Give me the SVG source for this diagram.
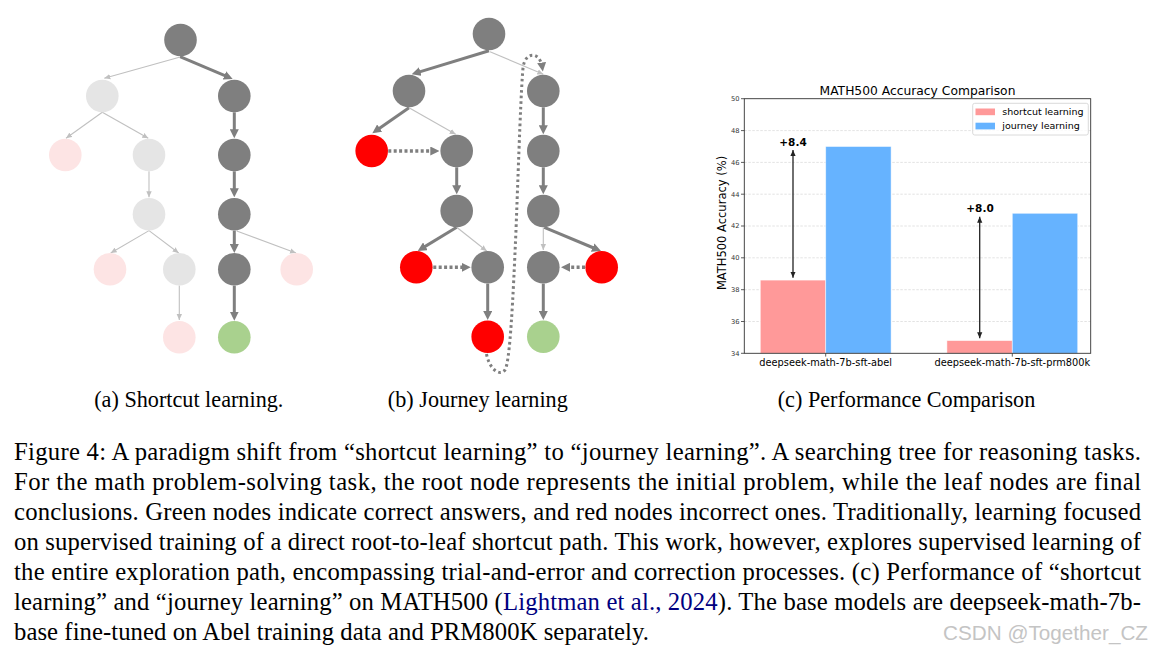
<svg xmlns="http://www.w3.org/2000/svg" width="1153" height="653" viewBox="0 0 1153 653">
<defs>
<style>
.dk{fill:#7f7f7f}
.lg{fill:#e5e5e5}
.pk{fill:#fde4e4}
.rd{fill:#ff0000}
.gr{fill:#a9d18e}
.ed{stroke:#7f7f7f;stroke-width:3;fill:none;marker-end:url(#mDark)}
.el{stroke:#c0c0c0;stroke-width:1.1;fill:none;marker-end:url(#mLight)}
.dt{stroke:#7f7f7f;stroke-width:3.5;fill:none;stroke-dasharray:3 2.4;marker-end:url(#mDark)}
.lp{stroke:#7f7f7f;stroke-width:3;fill:none;stroke-dasharray:2.6 3;marker-end:url(#mDark)}
.cap{font-family:"Liberation Serif","Times New Roman",serif;font-size:24.7px;fill:#000}
.sub{font-family:"Liberation Serif","Times New Roman",serif;font-size:22.2px;fill:#000;text-anchor:middle}
.mpl{font-family:"DejaVu Sans",sans-serif;fill:#000}
.tk{font-family:"DejaVu Sans",sans-serif;font-size:6.7px;fill:#333;text-anchor:end}
.grid{stroke:#d0d0d0;stroke-width:0.6;stroke-dasharray:2.5 1.5}
</style>
<marker id="mDark" markerUnits="userSpaceOnUse" markerWidth="9" markerHeight="9" viewBox="0 0 9 9" refX="5" refY="4.5" orient="auto"><path d="M0,0 L9,4.5 L0,9 z" fill="#7f7f7f"/></marker>
<marker id="mLight" markerUnits="userSpaceOnUse" markerWidth="6" markerHeight="6" viewBox="0 0 6 6" refX="6" refY="3" orient="auto"><path d="M0,0.3 L6,3 L0,5.7 z" fill="#c0c0c0"/></marker>
<marker id="mChart" markerUnits="userSpaceOnUse" markerWidth="6" markerHeight="6" viewBox="0 0 6 6" refX="6" refY="3" orient="auto-start-reverse"><path d="M0,0.4 L6,3 L0,5.6 z" fill="#222"/></marker>
</defs>
<rect width="1153" height="653" fill="#fff"/>

<!-- Panel (a) connectors -->
<g id="a-connectors">
<path class="el" d="M179.3,57.3 L104.3,78.3"/>
<path class="ed" d="M180,56.7 L229,77.4"/>
<path class="el" d="M102.3,112.3 L66,138.3"/>
<path class="el" d="M102.3,112.3 L148.3,138.3"/>
<path class="ed" d="M234.3,112.3 L234.3,134.3"/>
<path class="el" d="M149,171.3 L149,197.3"/>
<path class="ed" d="M234.3,171.3 L234.3,193.3"/>
<path class="el" d="M149,230.6 L110.7,253"/>
<path class="el" d="M149,230.6 L178.7,253"/>
<path class="ed" d="M234.3,230.6 L234.3,249"/>
<path class="el" d="M236.7,231 L296,253"/>
<path class="el" d="M179.3,285.6 L179.3,320"/>
<path class="ed" d="M234.3,285.6 L234.3,316.7"/>
</g>
<!-- Panel (a) nodes -->
<g id="a-root"><circle class="dk" cx="180.5" cy="40" r="16.3"/></g>
<g id="a-n1"><circle class="lg" cx="102.3" cy="96" r="16.3"/></g>
<g id="a-n2"><circle class="dk" cx="234.3" cy="96" r="16.3"/></g>
<g id="a-n3"><circle class="pk" cx="65.3" cy="155" r="16.3"/></g>
<g id="a-n4"><circle class="lg" cx="149" cy="155" r="16.3"/></g>
<g id="a-n5"><circle class="dk" cx="234.3" cy="155" r="16.3"/></g>
<g id="a-n6"><circle class="lg" cx="149" cy="214.3" r="16.3"/></g>
<g id="a-n7"><circle class="dk" cx="234.3" cy="214.3" r="16.3"/></g>
<g id="a-n8"><circle class="pk" cx="110" cy="269.3" r="16.3"/></g>
<g id="a-n9"><circle class="lg" cx="179.3" cy="269.3" r="16.3"/></g>
<g id="a-n10"><circle class="dk" cx="234.3" cy="269.3" r="16.3"/></g>
<g id="a-n11"><circle class="pk" cx="296.7" cy="269.3" r="16.3"/></g>
<g id="a-n12"><circle class="pk" cx="179.3" cy="337.3" r="16.3"/></g>
<g id="a-n13"><circle class="gr" cx="234.3" cy="337.3" r="16.3"/></g>

<!-- Panel (b) connectors -->
<g id="b-connectors">
<path class="ed" d="M489,50.7 L415.5,73.1"/>
<path class="el" d="M490,51.7 L543.3,74.3"/>
<path class="ed" d="M409,107.7 L375.6,131"/>
<path class="el" d="M409,107.7 L455.7,134.3"/>
<path class="dt" d="M388.3,151 L435.3,151"/>
<path class="ed" d="M456.7,167.3 L456.7,190.3"/>
<path class="ed" d="M456.7,227.3 L421.1,248.9"/>
<path class="el" d="M456.7,227.3 L486.7,251"/>
<path class="dt" d="M433.3,267.3 L466.7,267.3"/>
<path class="ed" d="M487.7,283.6 L487.7,316"/>
<path class="ed" d="M543.3,107.3 L543.3,130.3"/>
<path class="ed" d="M543.3,167.3 L543.3,190.3"/>
<path class="el" d="M543.3,227.6 L543.3,250"/>
<path class="ed" d="M544.3,227.3 L597.3,249.5"/>
<path class="dt" d="M585,267.3 L565,267.3"/>
<path class="ed" d="M543.3,283.6 L543.3,316"/>
<path class="lp" d="M486.5,354 C489,368 499,377 505,370 C510,362 513,300 516,230 C519,150 521,90 523,68 C525,51 540,51 542.3,67.5"/>
</g>
<!-- Panel (b) nodes -->
<g id="b-root"><circle class="dk" cx="489" cy="34" r="16.3"/></g>
<g id="b-n1"><circle class="dk" cx="409" cy="91" r="16.3"/></g>
<g id="b-n2"><circle class="dk" cx="543.3" cy="91" r="16.3"/></g>
<g id="b-n3"><circle class="rd" cx="371.7" cy="151" r="16.3"/></g>
<g id="b-n4"><circle class="dk" cx="456.7" cy="151" r="16.3"/></g>
<g id="b-n5"><circle class="dk" cx="543.3" cy="151" r="16.3"/></g>
<g id="b-n6"><circle class="dk" cx="456.7" cy="211" r="16.3"/></g>
<g id="b-n7"><circle class="dk" cx="543.3" cy="211" r="16.3"/></g>
<g id="b-n8"><circle class="rd" cx="416.3" cy="267.3" r="16.3"/></g>
<g id="b-n9"><circle class="dk" cx="487.7" cy="267.3" r="16.3"/></g>
<g id="b-n10"><circle class="dk" cx="543.3" cy="267.3" r="16.3"/></g>
<g id="b-n11"><circle class="rd" cx="601.7" cy="267.3" r="16.3"/></g>
<g id="b-n12"><circle class="rd" cx="487.7" cy="336.7" r="16.3"/></g>
<g id="b-n13"><circle class="gr" cx="543.3" cy="336.7" r="16.3"/></g>

<!-- Panel (c) chart -->
<g id="chart">
<text class="mpl" x="917.5" y="95" font-size="12.3" text-anchor="middle">MATH500 Accuracy Comparison</text>
<g id="gridlines">
<line class="grid" x1="744.3" y1="321.5" x2="1090.7" y2="321.5"/>
<line class="grid" x1="744.3" y1="289.7" x2="1090.7" y2="289.7"/>
<line class="grid" x1="744.3" y1="257.8" x2="1090.7" y2="257.8"/>
<line class="grid" x1="744.3" y1="226" x2="1090.7" y2="226"/>
<line class="grid" x1="744.3" y1="194.2" x2="1090.7" y2="194.2"/>
<line class="grid" x1="744.3" y1="162.4" x2="1090.7" y2="162.4"/>
<line class="grid" x1="744.3" y1="130.6" x2="1090.7" y2="130.6"/>
</g>
<g id="bars" stroke="#ffffff" stroke-width="0.8" stroke-opacity="0.6">
<rect x="760.3" y="280.1" width="65.4" height="73.2" fill="#ff9999"/>
<rect x="825.7" y="146.5" width="65.4" height="206.8" fill="#66b3ff"/>
<rect x="946.9" y="340.6" width="65.4" height="12.7" fill="#ff9999"/>
<rect x="1012.3" y="213.3" width="65.4" height="140" fill="#66b3ff"/>
</g>
<rect x="744.3" y="98.7" width="346.4" height="254.6" fill="none" stroke="#333" stroke-width="0.9"/>
<g id="yticks" stroke="#333" stroke-width="0.8">
<line x1="741" y1="353.3" x2="744.3" y2="353.3"/>
<line x1="741" y1="321.5" x2="744.3" y2="321.5"/>
<line x1="741" y1="289.7" x2="744.3" y2="289.7"/>
<line x1="741" y1="257.8" x2="744.3" y2="257.8"/>
<line x1="741" y1="226" x2="744.3" y2="226"/>
<line x1="741" y1="194.2" x2="744.3" y2="194.2"/>
<line x1="741" y1="162.4" x2="744.3" y2="162.4"/>
<line x1="741" y1="130.6" x2="744.3" y2="130.6"/>
<line x1="741" y1="98.7" x2="744.3" y2="98.7"/>
<line x1="825.7" y1="353.3" x2="825.7" y2="356.6"/>
<line x1="1012.3" y1="353.3" x2="1012.3" y2="356.6"/>
</g>
<g id="yticklabels">
<text class="tk" x="739.5" y="355.6">34</text>
<text class="tk" x="739.5" y="323.8">36</text>
<text class="tk" x="739.5" y="292">38</text>
<text class="tk" x="739.5" y="260.1">40</text>
<text class="tk" x="739.5" y="228.3">42</text>
<text class="tk" x="739.5" y="196.5">44</text>
<text class="tk" x="739.5" y="164.7">46</text>
<text class="tk" x="739.5" y="132.9">48</text>
<text class="tk" x="739.5" y="101">50</text>
</g>
<text class="mpl" font-size="11.5" text-anchor="middle" transform="translate(725.5,223) rotate(-90)">MATH500 Accuracy (%)</text>
<text class="mpl" x="825.7" y="366" font-size="9.8" text-anchor="middle" fill="#222">deepseek-math-7b-sft-abel</text>
<text class="mpl" x="1012.3" y="366" font-size="9.8" text-anchor="middle" fill="#222">deepseek-math-7b-sft-prm800k</text>
<g id="diff-arrows" stroke="#222" stroke-width="1.3">
<line x1="793" y1="277.7" x2="793" y2="150" marker-start="url(#mChart)" marker-end="url(#mChart)"/>
<line x1="979.7" y1="338.3" x2="979.7" y2="216.7" marker-start="url(#mChart)" marker-end="url(#mChart)"/>
</g>
<text class="mpl" x="793" y="145.5" font-size="10.5" font-weight="bold" text-anchor="middle">+8.4</text>
<text class="mpl" x="980" y="211.5" font-size="10.5" font-weight="bold" text-anchor="middle">+8.0</text>
<g id="legend">
<rect x="972.7" y="103.3" width="115.6" height="31.7" rx="2" fill="#fff" fill-opacity="0.8" stroke="#d0d0d0" stroke-width="0.8"/>
<rect x="975.5" y="108.5" width="19.5" height="6.7" fill="#ff9999"/>
<rect x="975.5" y="122.7" width="19.5" height="6.7" fill="#66b3ff"/>
<text class="mpl" x="1002.3" y="115.3" font-size="9.5" fill="#222">shortcut learning</text>
<text class="mpl" x="1002.3" y="129.3" font-size="9.5" fill="#222">journey learning</text>
</g>
</g>

<!-- Sub-captions -->
<text class="sub" x="188.8" y="407">(a) Shortcut learning.</text>
<text class="sub" x="477.8" y="407">(b) Journey learning</text>
<text class="sub" x="906.5" y="407">(c) Performance Comparison</text>

<!-- Caption -->
<g id="caption">
<text class="cap" x="14" y="460" textLength="1127" lengthAdjust="spacing">Figure 4: A paradigm shift from “shortcut learning” to “journey learning”. A searching tree for reasoning tasks.</text>
<text class="cap" x="14" y="490" textLength="1127" lengthAdjust="spacing">For the math problem-solving task, the root node represents the initial problem, while the leaf nodes are final</text>
<text class="cap" x="14" y="520" textLength="1127" lengthAdjust="spacing">conclusions. Green nodes indicate correct answers, and red nodes incorrect ones. Traditionally, learning focused</text>
<text class="cap" x="14" y="550" textLength="1127" lengthAdjust="spacing">on supervised training of a direct root-to-leaf shortcut path. This work, however, explores supervised learning of</text>
<text class="cap" x="14" y="580" textLength="1127" lengthAdjust="spacing">the entire exploration path, encompassing trial-and-error and correction processes. (c) Performance of “shortcut</text>
<text class="cap" x="14" y="610" textLength="1127" lengthAdjust="spacing">learning” and “journey learning” on MATH500 (<tspan fill="#000080">Lightman et al., 2024</tspan>). The base models are deepseek-math-7b-</text>
<text class="cap" x="14" y="640" textLength="635" lengthAdjust="spacing">base fine-tuned on Abel training data and PRM800K separately.</text>
</g>
<text x="1148" y="640" font-family="'Liberation Sans',Arial,sans-serif" font-size="20" fill="#c4c4c4" text-anchor="end" textLength="205" lengthAdjust="spacingAndGlyphs">CSDN @Together_CZ</text>
</svg>
